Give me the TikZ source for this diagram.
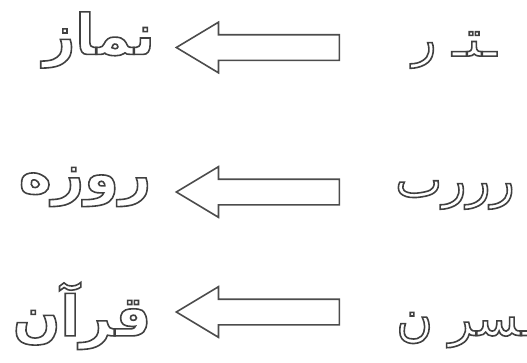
\documentclass[tikz,border=0pt]{standalone}
\usepackage{fontspec}
\usepackage{tikz}
\usetikzlibrary{shapes.arrows}
\TeXXeTstate=1
\newfontfamily\arabicfont[Script=Arabic]{DejaVu Sans}
% outlined letters (stroke only)
\newcommand{\hollow}[1]{\special{pdf:literal direct 1 Tr 1.6 w 0.25 G}#1\special{pdf:literal direct 0 Tr}}
\tikzset{
  wordnode/.style={
    inner sep=0pt,
    font=\arabicfont\bfseries\fontsize{56}{64}\selectfont
  },
  tracenode/.style={
    inner sep=0pt,
    font=\arabicfont\fontsize{50}{60}\selectfont
  },
  hollowarrow/.style={
    single arrow, shape border rotate=180,
    draw=black!70, line width=1.6pt, fill=white,
    minimum height=163pt, inner xsep=0pt, inner ysep=12pt,
    single arrow head extend=12.5pt, single arrow tip angle=62
  }
}

\begin{document}
\begin{tikzpicture}[x=1pt, y=-1pt]
    \useasboundingbox (0,0) rectangle (527,362);
    \clip (0,0) rectangle (527,362);
    \node[wordnode] (w1) at (99,40) {\hollow{\beginR نماز\endR}};
    \node[wordnode] (w2) at (85,187) {\hollow{\beginR روزه\endR}};
    \node[wordnode] (w3) at (82,316) {\hollow{\beginR قرآن\endR}};
    \node[hollowarrow] (a1) at (268.5,47.5) {};
    \node[hollowarrow] (a2) at (268.5,192) {};
    \node[hollowarrow] (a3) at (268.5,312) {};
    \node[tracenode, anchor=west] (t1) at (412,50) {\hollow{\beginR ـتـ ر\endR}};
    \node[tracenode, anchor=west] (t2) at (395,195) {\hollow{\beginR رررٮ\endR}};
    \node[tracenode, anchor=west] (t3) at (396,330) {\hollow{\beginR ـسر ن\endR}};
\end{tikzpicture}
\end{document}
